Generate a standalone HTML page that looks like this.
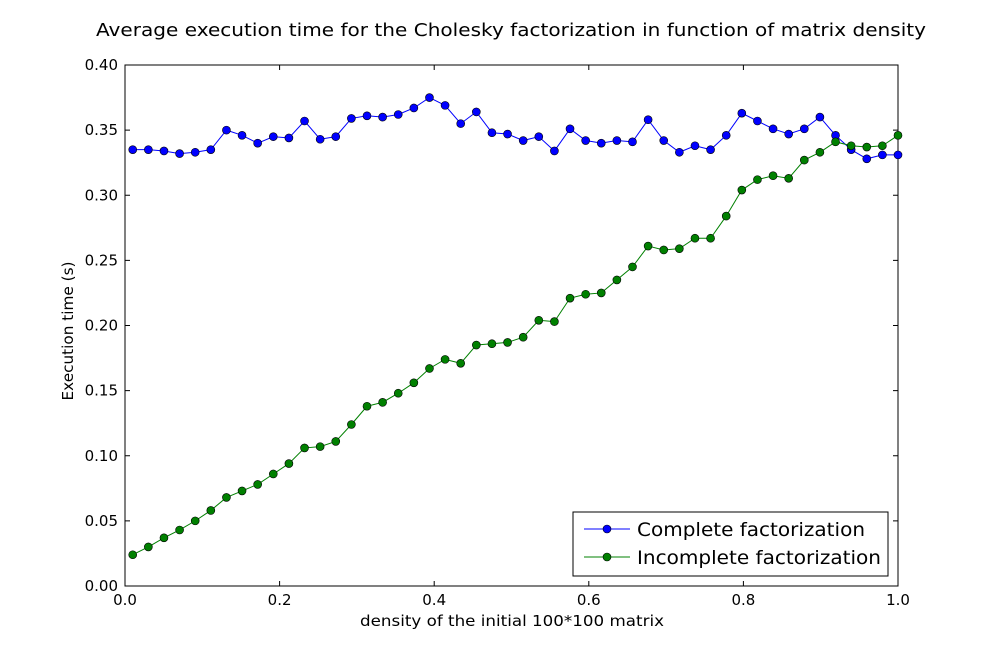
<!DOCTYPE html>
<html><head><meta charset="utf-8"><style>
body{margin:0;background:#fff;}
svg{display:block;font-family:"DejaVu Sans","Liberation Sans",sans-serif;}
</style></head><body>
<svg id="chart" width="997" height="651" xmlns="http://www.w3.org/2000/svg">
<rect width="997" height="651" fill="#fff"/>
<text x="511" y="36" text-anchor="middle" font-size="18" textLength="830" lengthAdjust="spacingAndGlyphs">Average execution time for the Cholesky factorization in function of matrix density</text>
<g id="plot"></g>
<text x="512" y="626" text-anchor="middle" font-size="15" textLength="304" lengthAdjust="spacingAndGlyphs">density of the initial 100*100 matrix</text>
<text transform="translate(73,331) rotate(-90)" text-anchor="middle" font-size="15" textLength="139" lengthAdjust="spacingAndGlyphs">Execution time (s)</text>
</svg>
<script>
const complete = [0.335,0.335,0.334,0.332,0.333,0.335,0.350,0.346,0.340,0.345,0.344,0.357,0.343,0.345,0.359,0.361,0.360,0.362,0.367,0.375,0.369,0.355,0.364,0.348,0.347,0.342,0.345,0.334,0.351,0.342,0.340,0.342,0.341,0.358,0.342,0.333,0.338,0.335,0.346,0.363,0.357,0.351,0.347,0.351,0.360,0.346,0.335,0.328,0.331,0.331];
const incomplete = [0.024,0.030,0.037,0.043,0.050,0.058,0.068,0.073,0.078,0.086,0.094,0.106,0.107,0.111,0.124,0.138,0.141,0.148,0.156,0.167,0.174,0.171,0.185,0.186,0.187,0.191,0.204,0.203,0.221,0.224,0.225,0.235,0.245,0.261,0.258,0.259,0.267,0.267,0.284,0.304,0.312,0.315,0.313,0.327,0.333,0.341,0.338,0.337,0.338,0.346];
const xTicks = [0.0,0.2,0.4,0.6,0.8,1.0];
const yTicks = [0.00,0.05,0.10,0.15,0.20,0.25,0.30,0.35,0.40];
const seriesNames = ["Complete factorization","Incomplete factorization"];

const NS="http://www.w3.org/2000/svg";
const L=125,R=898,T=65,B=586;
const xs=v=>L+(v-0)/(1-0)*(R-L);
const ys=v=>B-(v-0)/(0.4-0)*(B-T);
const g=document.getElementById('plot');
function mk(tag,attrs,parent){const e=document.createElementNS(NS,tag);for(const k in attrs)e.setAttribute(k,attrs[k]);(parent||g).appendChild(e);return e;}
function xval(i,n){return 0.01+i*(0.99/(n-1));}

const frame=mk('rect',{x:L,y:T,width:R-L,height:B-T,fill:'none',stroke:'#000','stroke-width':1});



xTicks.forEach(t=>{
  const x=xs(t);
  const tk=mk('path',{d:`M${x},${B}v-5M${x},${T}v5`,stroke:'#000'});
  
  
  const tx=mk('text',{x:x,y:B+19,'text-anchor':'middle','font-size':15});
  tx.textContent=t.toFixed(1);
  
  
});
yTicks.forEach(t=>{
  const y=ys(t);
  const tk=mk('path',{d:`M${L},${y}h5M${R},${y}h-5`,stroke:'#000'});
  
  
  const tx=mk('text',{x:L-7,y:y+5,'text-anchor':'end','font-size':15});
  tx.textContent=t.toFixed(2);
  
  
});

function series(data,color,name){
  const sg=mk('g',{});
  
  
  const pts=data.map((v,i)=>xs(xval(i,data.length))+','+ys(v)).join(' ');
  const pl=mk('polyline',{points:pts,fill:'none',stroke:color,'stroke-width':1},sg);
  
  
  data.forEach((v,i)=>{
    const c=mk('circle',{cx:xs(xval(i,data.length)),cy:ys(v),r:4,fill:color,stroke:'#000','stroke-width':0.6},sg);
    
    
  });
}
series(complete,'#0000ff','complete-series');
series(incomplete,'#008000','incomplete-series');

const lg=mk('g',{});


mk('rect',{x:573,y:512,width:315,height:64,fill:'#fff',stroke:'#000'},lg);
const legW=[228,244];
[['#0000ff',529],['#008000',557]].forEach((c,i)=>{
  const e=mk('g',{},lg);
  
  
  mk('line',{x1:584,x2:630,y1:c[1],y2:c[1],stroke:c[0]},e);
  mk('circle',{cx:607,cy:c[1],r:4,fill:c[0],stroke:'#000','stroke-width':0.6},e);
  const t=mk('text',{x:637,y:c[1]+7,'font-size':19,textLength:legW[i],lengthAdjust:'spacingAndGlyphs'},e);
  t.textContent=seriesNames[i];
});
</script>
</body></html>
